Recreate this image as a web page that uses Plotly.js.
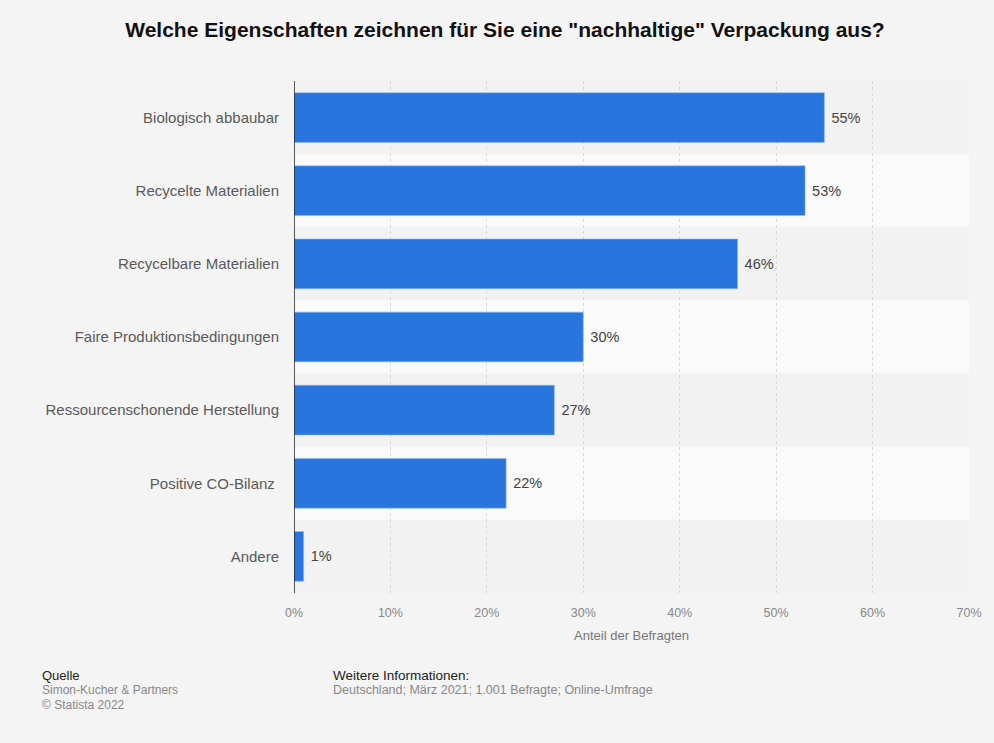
<!DOCTYPE html>
<html><head><meta charset="utf-8">
<script src="https://cdn.plot.ly/plotly-3.0.1.min.js"></script>
<style>body{margin:0;background:#f4f4f4;}#c{width:994px;height:743px;}</style>
</head><body><div id="c"></div>
<script>
const categories = ["Biologisch abbaubar","Recycelte Materialien","Recycelbare Materialien","Faire Produktionsbedingungen","Ressourcenschonende Herstellung","Positive CO-Bilanz ","Andere"];
const values = [55,53,46,30,27,22,1];
const xTicks = [0,10,20,30,40,50,60,70];
const xTickLabels = xTicks.map(v => v + "%");

const shapes = categories.map((c,i) => ({
  type:'rect', xref:'paper', yref:'y', layer:'below',
  x0:0, x1:1, y0:i-0.5, y1:i+0.5,
  fillcolor: i%2===0 ? '#f2f2f2' : '#fafafa', line:{width:0}
}));
shapes.push({type:'line', xref:'x', yref:'paper', x0:0, x1:0, y0:0, y1:1, line:{color:'#222', width:1.5}});

const trace = {
  type:'bar', orientation:'h',
  y: categories.map((c,i)=>i), x: values,
  marker:{color:'#2876dd', line:{color:'#8fb8ef', width:0.6}},
  width:0.68,
  text: values.map(v=>" " + v + "%"), textposition:'outside', cliponaxis:false,
  textfont:{family:'Liberation Sans, Arial, sans-serif', size:14.5, color:'#444'},
  hoverinfo:'none'
};

const PW = 675, PH = 512, L = 294, T = 81;
const px = x => (x - L) / PW;
const py = y => -(y - (T + PH)) / PH;

const layout = {
  width:994, height:743,
  paper_bgcolor:'#f4f4f4', plot_bgcolor:'rgba(0,0,0,0)',
  margin:{l:294, r:25, t:81, b:150},
  font:{family:'Liberation Sans, Arial, sans-serif'},
  title:{text:'<b>Welche Eigenschaften zeichnen für Sie eine "nachhaltige" Verpackung aus?</b>', x:0.508, xanchor:'center', y:0.96, yanchor:'middle', font:{size:21, color:'#111'}},
  showlegend:false,
  xaxis:{range:[0,70], tickvals:xTicks, ticktext:xTickLabels, showgrid:true, gridcolor:'#d8d8d8', griddash:'dot', gridwidth:1,
    zeroline:false, showline:false, ticks:'', tickfont:{size:12.5, color:'#888'}, ticklabelstandoff:10,
    title:{text:'Anteil der Befragten', font:{size:13, color:'#777'}, standoff:12}, fixedrange:true},
  yaxis:{tickvals:categories.map((c,i)=>i), ticktext:categories, range:[categories.length-0.5,-0.5], showgrid:false, zeroline:false, showline:false,
    ticks:'', ticklen:0, tickfont:{size:15, color:'#5a5a5a'}, automargin:false, ticklabelstandoff:14},
  shapes:shapes,
  annotations:[
    {text:'Quelle', x:px(40), y:py(675), font:{size:13, color:'#222'}},
    {text:'Simon-Kucher & Partners', x:px(40), y:py(690), font:{size:12, color:'#888'}},
    {text:'© Statista 2022', x:px(40), y:py(705), font:{size:12, color:'#888'}},
    {text:'Weitere Informationen:', x:px(331), y:py(675), font:{size:13.5, color:'#222'}},
    {text:'Deutschland; März 2021; 1.001 Befragte; Online-Umfrage', x:px(331), y:py(690), font:{size:12.5, color:'#888'}}
  ].map(a => Object.assign({xref:'paper', yref:'paper', xanchor:'left', yanchor:'middle', showarrow:false}, a))
};
Plotly.newPlot('c',[trace],layout,{displayModeBar:false, staticPlot:true});
</script></body></html>
